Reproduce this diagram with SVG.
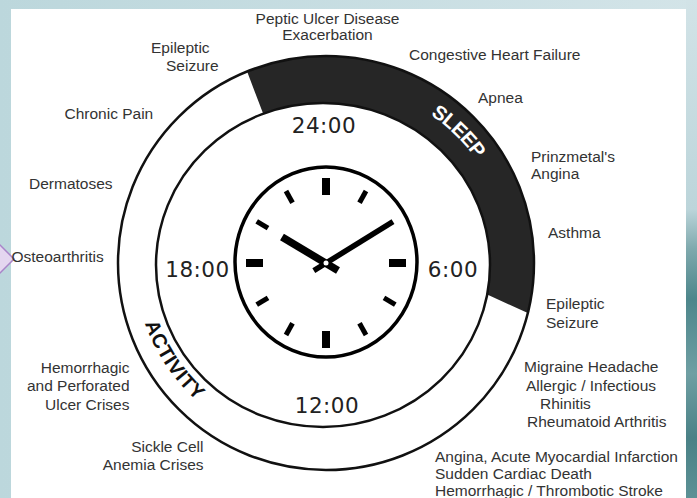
<svg xmlns="http://www.w3.org/2000/svg" width="697" height="498" viewBox="0 0 697 498">
<defs>
<linearGradient id="bg" x1="0" y1="0" x2="1" y2="0">
<stop offset="0" stop-color="#bcd7dc"/>
<stop offset="1" stop-color="#d3e4e8"/>
</linearGradient>
<linearGradient id="rs" x1="0" y1="0" x2="0" y2="1">
<stop offset="0" stop-color="#d2e3e7"/>
<stop offset="0.42" stop-color="#bcd5da"/>
<stop offset="0.5" stop-color="#7fa9ad"/>
<stop offset="0.6" stop-color="#4d868b"/>
<stop offset="0.75" stop-color="#6f9fa3"/>
<stop offset="0.88" stop-color="#4a8186"/>
<stop offset="1" stop-color="#5c9195"/>
</linearGradient>
<path id="sleepPath" d="M 357.5 77.9 A 193 189 0 0 1 514.1 231.2"/>
<path id="actPath" d="M 142 264 A 182 178 0 0 0 250 426.6"/>
<style>
.lbl{font-family:"Liberation Sans",Arial,sans-serif;font-size:15.5px;fill:#333333;}
.time{font-family:"DejaVu Sans",sans-serif;font-size:21.5px;fill:#222222;text-anchor:middle;letter-spacing:0.5px;}
.ring{fill:none;stroke:#111111;stroke-width:2.5;}
.tick{stroke:#000000;stroke-width:5;}
.band-text{font-family:"Liberation Sans",Arial,sans-serif;font-weight:bold;font-size:20px;}
</style>
</defs>
<rect x="0" y="0" width="697" height="498" fill="url(#bg)"/>
<rect x="686" y="0" width="11" height="498" fill="url(#rs)"/>
<rect x="11" y="9" width="675" height="489" fill="#ffffff"/>

<g id="ring">
<path d="M 247.1 71.5 A 208 207 0 0 1 527.8 313.1 L 487.2 294.5 A 167 162 0 0 0 263.2 113.8 Z" fill="#262626"/>
<ellipse class="ring" cx="326" cy="263" rx="208" ry="207"/>
<ellipse class="ring" cx="323" cy="265" rx="167" ry="162"/>
</g>
<g id="sleep">
<text class="band-text" fill="#ffffff" dominant-baseline="central"><textPath href="#sleepPath" startOffset="50%" text-anchor="middle">SLEEP</textPath></text>
</g>
<g id="activity">
<text class="band-text" fill="#111111" dominant-baseline="central"><textPath href="#actPath" startOffset="50%" text-anchor="middle">ACTIVITY</textPath></text>
</g>

<g id="clock">
<ellipse cx="326" cy="262" rx="91" ry="95" fill="#ffffff" stroke="#000000" stroke-width="3.5"/>
<rect x="322" y="178" width="8" height="17" fill="#000"/>
<rect x="322" y="331" width="8" height="17" fill="#000"/>
<rect x="389" y="259" width="17" height="8" fill="#000"/>
<rect x="246" y="259" width="17" height="8" fill="#000"/>
<line class="tick" x1="359.5" y1="202.7" x2="366" y2="191"/>
<line class="tick" x1="384" y1="297.8" x2="395.3" y2="304.6"/>
<line class="tick" x1="359.5" y1="323.3" x2="366" y2="335"/>
<line class="tick" x1="292.5" y1="323.3" x2="286" y2="335"/>
<line class="tick" x1="268" y1="297.8" x2="256.7" y2="304.6"/>
<line class="tick" x1="268" y1="228.2" x2="256.7" y2="221.4"/>
<line class="tick" x1="292.5" y1="202.7" x2="286" y2="191"/>
<line x1="338" y1="270.5" x2="282" y2="237" stroke="#000" stroke-width="7.5"/>
<line x1="313.8" y1="270.6" x2="393" y2="221.7" stroke="#000" stroke-width="5.5"/>
<circle cx="326" cy="263" r="2.5" fill="#ffffff"/>
</g>

<g id="times">
<text class="time" x="324" y="133">24:00</text>
<text class="time" x="197.5" y="277">18:00</text>
<text class="time" x="453" y="277">6:00</text>
<text class="time" x="327" y="413">12:00</text>
</g>

<g id="marker-diamond">
<polygon points="14,259 -5,240 -24,259 -5,278" fill="#e4d6f0" stroke="#a984c9" stroke-width="1.5"/>
</g>

<g id="label-peptic"><text class="lbl" text-anchor="middle" x="327.5" y="23.5">Peptic Ulcer Disease</text><text class="lbl" text-anchor="middle" x="327.5" y="39.5">Exacerbation</text></g>
<g id="label-epileptic-top"><text class="lbl" x="151" y="53">Epileptic</text><text class="lbl" x="166" y="71">Seizure</text></g>
<g id="label-chf"><text class="lbl" x="409" y="59.5">Congestive Heart Failure</text></g>
<g id="label-apnea"><text class="lbl" x="478" y="102.5">Apnea</text></g>
<g id="label-chronic-pain"><text class="lbl" x="64.5" y="118.5">Chronic Pain</text></g>
<g id="label-prinzmetal"><text class="lbl" x="531" y="162">Prinzmetal's</text><text class="lbl" x="531" y="178.5">Angina</text></g>
<g id="label-dermatoses"><text class="lbl" x="29" y="188.5">Dermatoses</text></g>
<g id="label-asthma"><text class="lbl" x="548" y="237.5">Asthma</text></g>
<g id="label-osteoarthritis"><text class="lbl" x="11.5" y="261.5">Osteoarthritis</text></g>
<g id="label-epileptic-right"><text class="lbl" x="546" y="308.5">Epileptic</text><text class="lbl" x="546" y="327.5">Seizure</text></g>
<g id="label-migraine"><text class="lbl" x="524" y="372">Migraine Headache</text><text class="lbl" x="526" y="390.5">Allergic / Infectious</text><text class="lbl" x="540" y="408.5">Rhinitis</text><text class="lbl" x="527" y="426.5">Rheumatoid Arthritis</text></g>
<g id="label-angina"><text class="lbl" x="435" y="462">Angina, Acute Myocardial Infarction</text><text class="lbl" x="435" y="479">Sudden Cardiac Death</text><text class="lbl" x="435" y="495.5">Hemorrhagic / Thrombotic Stroke</text></g>
<g id="label-hemorrhagic"><text class="lbl" text-anchor="end" x="129.5" y="372.5">Hemorrhagic</text><text class="lbl" text-anchor="end" x="129.5" y="391">and Perforated</text><text class="lbl" text-anchor="end" x="129.5" y="409.5">Ulcer Crises</text></g>
<g id="label-sickle"><text class="lbl" text-anchor="end" x="203.5" y="452">Sickle Cell</text><text class="lbl" text-anchor="end" x="203.5" y="469.5">Anemia Crises</text></g>
</svg>
